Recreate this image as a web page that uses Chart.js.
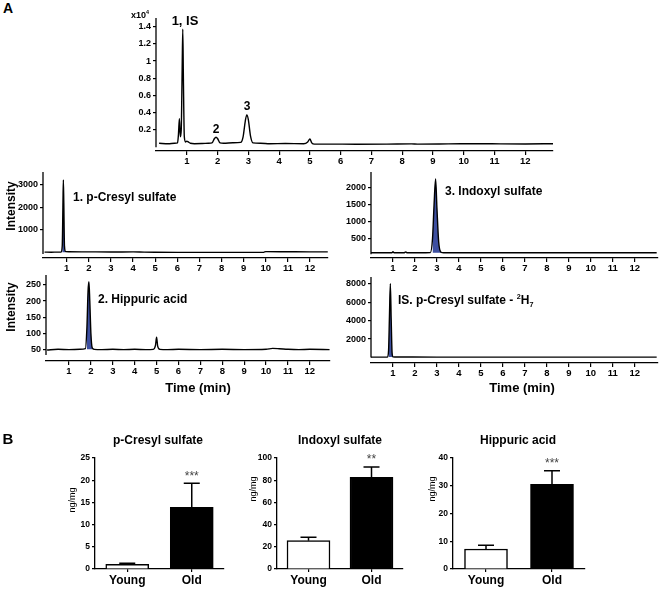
<!DOCTYPE html>
<html>
<head>
<meta charset="utf-8">
<script src="https://cdn.jsdelivr.net/npm/chart.js@4.4.1/dist/chart.umd.min.js"></script>
<style>
  body { margin: 0; background: #fff; }
  #fig { position: relative; width: 660px; height: 590px; overflow: hidden;
         font-family: "Liberation Sans", Arial, sans-serif; font-weight: bold; color: #000; }
  #fig canvas { position: absolute; }
  .t { position: absolute; white-space: nowrap; line-height: 1; }
  .c { transform: translate(-50%, -50%); }
  .l { transform: translateY(-50%); }
  .v { transform: translate(-50%, -50%) rotate(-90deg); }
  .n { font-weight: normal; }
  sup, sub { font-size: 60%; line-height: 0; }
</style>
</head>
<body>
<div id="fig">
  <canvas id="tic" width="460" height="175" style="left:100px;top:0px"></canvas>
  <canvas id="pcs" width="335" height="120" style="left:0px;top:160px"></canvas>
  <canvas id="ind" width="330" height="120" style="left:330px;top:160px"></canvas>
  <canvas id="hip" width="335" height="118" style="left:0px;top:265px"></canvas>
  <canvas id="is" width="330" height="118" style="left:330px;top:265px"></canvas>
  <canvas id="barPcs" width="174" height="145" style="left:60px;top:445px"></canvas>
  <canvas id="barInd" width="171" height="145" style="left:242px;top:445px"></canvas>
  <canvas id="barHip" width="177" height="145" style="left:418px;top:445px"></canvas>

  <div class="t c" style="left:8px;top:8px;font-size:14px">A</div>
  <div class="t c" style="left:140px;top:15px;font-size:9px">x10<sup>4</sup></div>
  <div class="t c" style="left:185px;top:20px;font-size:13px">1, IS</div>
  <div class="t c" style="left:216px;top:129px;font-size:12px">2</div>
  <div class="t c" style="left:247px;top:106px;font-size:12px">3</div>

  <div class="t v" style="left:11px;top:206px;font-size:12px">Intensity</div>
  <div class="t v" style="left:11px;top:307px;font-size:12px">Intensity</div>
  <div class="t l" style="left:73px;top:197px;font-size:12px">1. p-Cresyl sulfate</div>
  <div class="t l" style="left:445px;top:191px;font-size:12px">3. Indoxyl sulfate</div>
  <div class="t l" style="left:98px;top:299px;font-size:12px">2. Hippuric acid</div>
  <div class="t l" style="left:398px;top:300px;font-size:12px">IS. p-Cresyl sulfate - <sup>2</sup>H<sub>7</sub></div>
  <div class="t c" style="left:198px;top:387px;font-size:13px">Time (min)</div>
  <div class="t c" style="left:522px;top:387px;font-size:13px">Time (min)</div>

  <div class="t c" style="left:8px;top:438px;font-size:15px">B</div>
  <div class="t c" style="left:158px;top:440px;font-size:12px">p-Cresyl sulfate</div>
  <div class="t c" style="left:340px;top:440px;font-size:12px">Indoxyl sulfate</div>
  <div class="t c" style="left:518px;top:440px;font-size:12px">Hippuric acid</div>
  <div class="t v n" style="left:72px;top:500px;font-size:9px">ng/mg</div>
  <div class="t v n" style="left:253px;top:489px;font-size:9px">ng/mg</div>
  <div class="t v n" style="left:432px;top:489px;font-size:9px">ng/mg</div>
</div>

<script>
Chart.defaults.font.family = '"Liberation Sans", Arial, sans-serif';
Chart.defaults.color = '#000';

// ---------- A: chromatograms (time in min, intensity) ----------
const minuteTicks = [1, 2, 3, 4, 5, 6, 7, 8, 9, 10, 11, 12];

// total ion chromatogram, intensity x10^4
const ticTime = [0.1, 0.4, 0.6, 0.7, 0.73, 0.76, 0.79, 0.82, 0.85, 0.87, 0.89, 0.92, 0.96, 1.0, 1.05, 1.12, 1.25,
  1.5, 1.7, 1.82, 1.9, 1.95, 2.0, 2.08, 2.2, 2.5, 2.75, 2.83, 2.9, 2.95, 3.0, 3.07, 3.15, 3.4, 3.7,
  4.2, 4.8, 4.93, 5.0, 5.06, 5.15, 5.6, 6.5, 7.5, 8.3, 8.5, 9.2, 9.9, 10.5, 11.2, 12.0, 12.9];
const ticIntensity = [0.045, 0.04, 0.045, 0.05, 0.15, 0.33, 0.12, 0.2, 0.9, 1.37, 0.8, 0.12, 0.06, 0.07, 0.06, 0.045, 0.04,
  0.042, 0.045, 0.05, 0.1, 0.115, 0.1, 0.05, 0.045, 0.05, 0.055, 0.12, 0.3, 0.375, 0.32, 0.13, 0.05, 0.045, 0.04,
  0.042, 0.04, 0.06, 0.095, 0.05, 0.035, 0.035, 0.034, 0.035, 0.038, 0.035, 0.036, 0.04, 0.04, 0.038, 0.037, 0.04];
const ticTicks = [0.2, 0.4, 0.6, 0.8, 1, 1.2, 1.4];

// 1. p-Cresyl sulfate
const pcsTime = [0, 0.3, 0.6, 0.75, 0.8, 0.83, 0.85, 0.87, 0.9, 0.95, 1.1, 2, 3, 4, 4.5, 5, 6, 7, 8, 9, 9.9, 10, 11, 12, 12.8];
const pcsIntensity = [20, 15, 20, 25, 300, 2000, 3200, 2200, 300, 40, 35, 30, 25, 30, 20, 15, 10, 10, 10, 10, 10, 40, 35, 30, 30];
const pcsPeak = [0.78, 0.95];
const pcsTicks = [1000, 2000, 3000];

// 3. Indoxyl sulfate
const indTime = [0, 0.5, 0.95, 1.0, 1.05, 1.5, 1.58, 1.65, 2.2, 2.7, 2.8, 2.87, 2.94, 3.0, 3.08, 3.2, 3.3, 4, 6, 8, 10, 12, 13];
const indIntensity = [80, 80, 80, 110, 80, 80, 105, 80, 80, 85, 500, 1500, 2260, 1400, 400, 90, 80, 80, 80, 80, 80, 80, 80];
const indPeak = [2.72, 3.25];
const indTicks = [500, 1000, 1500, 2000];

// 2. Hippuric acid
const hipTime = [0, 0.5, 1, 1.5, 1.75, 1.82, 1.87, 1.91, 1.95, 2.0, 2.06, 2.15, 2.5, 3, 3.5, 4, 4.5, 4.85, 4.95, 5.0, 5.05, 5.15,
  5.5, 6, 7, 8, 9, 10, 10.3, 10.6, 11, 11.5, 12, 12.9];
const hipIntensity = [48, 50, 49, 50, 52, 120, 230, 260, 200, 100, 55, 50, 49, 50, 49, 50, 49, 50, 62, 88, 60, 50,
  49, 50, 49, 50, 49, 50, 53, 52, 50, 49, 50, 49];
const hipPeak = [1.78, 2.1];
const hipTicks = [50, 100, 150, 200, 250];

// IS. p-Cresyl sulfate-2H7
const isTime = [0, 0.5, 0.75, 0.8, 0.84, 0.88, 0.92, 0.96, 1.0, 1.2, 3, 6, 9, 12, 13];
const isIntensity = [50, 50, 60, 800, 4500, 8000, 4000, 500, 80, 60, 50, 50, 50, 50, 50];
const isPeak = [0.76, 1.0];
const isTicks = [2000, 4000, 6000, 8000];

// ---------- B: concentrations (ng/mg), mean and mean+SEM ----------
const groups = ['Young', 'Old'];
const pcsMean = [1.05, 13.9];
const pcsUpper = [1.28, 19.3];
const indMean = [25.5, 82.6];
const indUpper = [28.7, 91.9];
const hipMean = [7.2, 30.5];
const hipUpper = [8.6, 35.4];
const stars = ['', '***'];
const indStars = ['', '**'];

const peakBlue = '#3d4fa0';

// y axis line that stops short of the x axis, like the original
const yAxisLine = {
  id: 'yAxisLine',
  afterDraw(chart, args, opts) {
    const { ctx, chartArea } = chart;
    ctx.save();
    ctx.strokeStyle = '#000';
    ctx.lineWidth = 1.3;
    ctx.beginPath();
    ctx.moveTo(chartArea.left, chartArea.top);
    ctx.lineTo(chartArea.left, chart.scales.y.getPixelForValue(opts.floor));
    ctx.stroke();
    ctx.restore();
  }
};

function chromatogram(id, time, intensity, peak, s) {
  const trace = time.map((t, i) => ({ x: t, y: intensity[i] }));
  const datasets = [{
    data: trace,
    borderColor: '#000',
    borderWidth: 1.4,
    pointRadius: 0,
    cubicInterpolationMode: 'monotone',
    fill: false
  }];
  if (peak) {
    datasets.push({
      data: trace.filter(p => p.x >= peak[0] && p.x <= peak[1]),
      borderWidth: 0,
      pointRadius: 0,
      cubicInterpolationMode: 'monotone',
      backgroundColor: peakBlue,
      fill: { value: s.base }
    });
  }
  new Chart(document.getElementById(id), {
    type: 'line',
    data: { datasets },
    plugins: [yAxisLine],
    options: {
      responsive: false, animation: false, devicePixelRatio: 1, events: [],
      layout: { padding: s.pad },
      plugins: { legend: { display: false }, tooltip: { enabled: false }, yAxisLine: { floor: s.floor } },
      scales: {
        x: {
          type: 'linear', min: s.xMin, max: s.xMax,
          afterBuildTicks: sc => { sc.ticks = minuteTicks.map(v => ({ value: v })); },
          afterFit: sc => { sc.height = s.xH; },
          border: { display: true, color: '#000', width: 1.3 },
          grid: { drawOnChartArea: false, tickLength: 4, color: '#000', lineWidth: 1.2 },
          ticks: { font: { size: 9.5, weight: 'bold' }, padding: 1, maxRotation: 0, autoSkip: false, callback: v => String(v) }
        },
        y: {
          min: s.yMin, max: s.yMax,
          afterBuildTicks: sc => { sc.ticks = s.ticks.map(v => ({ value: v })); },
          afterFit: sc => { sc.width = s.yW; },
          border: { display: false },
          grid: { drawOnChartArea: false, tickLength: 3, color: '#000', lineWidth: 1.2 },
          ticks: { font: { size: 9, weight: 'bold' }, padding: 2, autoSkip: false, callback: v => String(v) }
        }
      }
    }
  });
}

chromatogram('tic', ticTime, ticIntensity, null, {
  xMin: 0, xMax: 12.9, yMin: -0.045, yMax: 1.5, ticks: ticTicks, floor: 0,
  yW: 56, xH: 24, pad: { top: 18, right: 7, left: 0, bottom: 0 }
});
chromatogram('pcs', pcsTime, pcsIntensity, pcsPeak, {
  xMin: -0.07, xMax: 12.81, yMin: -240, yMax: 3550, ticks: pcsTicks, floor: -65, base: 15,
  yW: 43, xH: 22, pad: { top: 12, right: 7, left: 0, bottom: 0 }
});
chromatogram('ind', indTime, indIntensity, indPeak, {
  xMin: 0, xMax: 13.06, yMin: -74, yMax: 2467, ticks: indTicks, floor: 36, base: 80,
  yW: 41, xH: 22, pad: { top: 12, right: 2, left: 0, bottom: 0 }
});
chromatogram('hip', hipTime, hipIntensity, hipPeak, {
  xMin: -0.05, xMax: 12.92, yMin: 13.7, yMax: 281, ticks: hipTicks, floor: 32, base: 50,
  yW: 46, xH: 22, pad: { top: 10, right: 5, left: 0, bottom: 0 }
});
chromatogram('is', isTime, isIntensity, isPeak, {
  xMin: 0, xMax: 13.06, yMin: -589, yMax: 8727, ticks: isTicks, floor: 0, base: 50,
  yW: 41, xH: 20, pad: { top: 12, right: 2, left: 0, bottom: 0 }
});

// error bars (upper only) and significance stars
const errorBars = {
  id: 'errorBars',
  afterDatasetsDraw(chart, args, opts) {
    const { ctx } = chart;
    const y = chart.scales.y;
    const bars = chart.getDatasetMeta(0).data;
    ctx.save();
    ctx.strokeStyle = '#000';
    ctx.lineWidth = 1.5;
    bars.forEach((bar, i) => {
      const top = y.getPixelForValue(opts.upper[i]);
      ctx.beginPath();
      ctx.moveTo(bar.x, bar.y);
      ctx.lineTo(bar.x, top);
      ctx.moveTo(bar.x - 8, top);
      ctx.lineTo(bar.x + 8, top);
      ctx.stroke();
      if (opts.stars[i]) {
        ctx.fillStyle = '#444';
        ctx.font = '12px "Liberation Sans", Arial, sans-serif';
        ctx.textAlign = 'center';
        ctx.textBaseline = 'middle';
        ctx.fillText(opts.stars[i], bar.x, top - 7);
      }
    });
    ctx.restore();
  }
};

function barChart(id, mean, upper, sig, s) {
  new Chart(document.getElementById(id), {
    type: 'bar',
    data: {
      labels: groups,
      datasets: [{
        data: mean,
        backgroundColor: ['#fff', '#000'],
        borderColor: '#000',
        borderWidth: 1.5,
        barThickness: 43
      }]
    },
    plugins: [errorBars],
    options: {
      responsive: false, animation: false, devicePixelRatio: 1, events: [],
      layout: { padding: s.pad },
      plugins: { legend: { display: false }, tooltip: { enabled: false }, errorBars: { upper, stars: sig } },
      scales: {
        x: {
          afterFit: sc => { sc.height = 21; },
          border: { color: '#000', width: 1.3 },
          grid: { offset: false, drawOnChartArea: false, tickLength: 3, color: '#000', lineWidth: 1.2 },
          ticks: { font: { size: 12, weight: 'bold' }, padding: 1 }
        },
        y: {
          min: 0, max: s.max,
          afterFit: sc => { sc.width = 35; },
          border: { color: '#000', width: 1.3 },
          grid: { drawOnChartArea: false, tickLength: 3, color: '#000', lineWidth: 1.2 },
          ticks: { stepSize: s.step, font: { size: 8.5, weight: 'bold' }, padding: 2 }
        }
      }
    }
  });
}

barChart('barPcs', pcsMean, pcsUpper, stars, { max: 25, step: 5, pad: { top: 13, right: 10, left: 0, bottom: 0 } });
barChart('barInd', indMean, indUpper, indStars, { max: 100, step: 20, pad: { top: 13, right: 10, left: 0, bottom: 0 } });
barChart('barHip', hipMean, hipUpper, stars, { max: 40, step: 10, pad: { top: 13, right: 10, left: 0, bottom: 0 } });
</script>
</body>
</html>
